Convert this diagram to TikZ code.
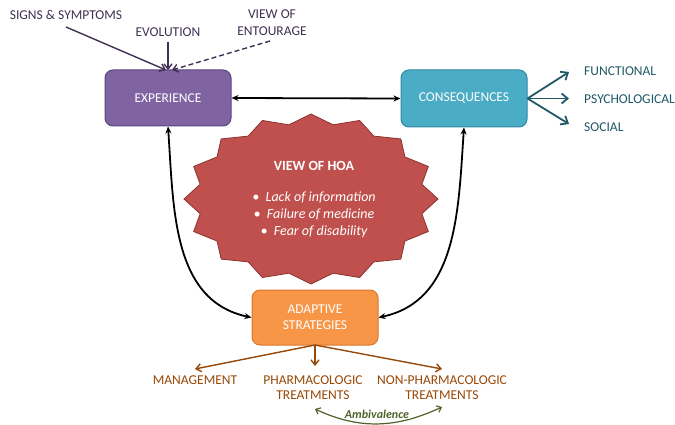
\documentclass[tikz,border=0pt]{standalone}
\usepackage{fontspec}
\setmainfont{Carlito}
\usetikzlibrary{arrows.meta}
\definecolor{expfill}{HTML}{8064A2}
\definecolor{expline}{HTML}{5C4580}
\definecolor{consfill}{HTML}{4BACC6}
\definecolor{consline}{HTML}{2E8AA3}
\definecolor{adfill}{HTML}{F79646}
\definecolor{adline}{HTML}{D9782E}
\definecolor{hoafill}{HTML}{C0504D}
\definecolor{hoaline}{HTML}{8C3330}
\definecolor{inktop}{HTML}{403152}
\definecolor{inkteal}{HTML}{215968}
\definecolor{inkbrown}{HTML}{984807}
\definecolor{inkgreen}{HTML}{4F6228}
\tikzset{
  box/.style={rounded corners=8pt, line width=1pt, minimum width=126pt,
    minimum height=56pt, align=center, text=white, font=\fontsize{13.5}{16}\selectfont},
  lbl/.style={font=\fontsize{13.5}{15}\selectfont, align=center, inner sep=1pt},
  blk/.style={line width=1.8pt, black, {Stealth[length=7pt,width=6pt]}-{Stealth[length=7pt,width=6pt]}},
  topin/.style={line width=1.4pt, inktop, -{Straight Barb[length=5pt,width=8pt]}},
  tealout/.style={line width=1.8pt, inkteal, -{Straight Barb[length=6pt,width=10pt]}},
  brownout/.style={line width=1.4pt, inkbrown, -{Straight Barb[length=5pt,width=8pt]}},
}
\begin{document}
\begin{tikzpicture}[x=1pt,y=-1pt]
\useasboundingbox[fill=white] (0,0) rectangle (675,425);

% central star
\draw[fill=hoafill, draw=hoaline, line width=0.8pt]
  plot[samples=33, domain=0:32, variable=\k]
  ({311+127*(0.945+0.055*cos(\k*180))*cos(90+\k*11.25)},
   {199-85*(0.945+0.055*cos(\k*180))*sin(90+\k*11.25)}) -- cycle;
\node[font=\fontsize{14}{16}\selectfont\bfseries, text=white] (hoa) at (314,166) {VIEW OF HOA};
\node[font=\fontsize{14}{16.8}\selectfont\itshape, text=white, align=center] (hoalist) at (314,215)
  {\textbullet\ \ Lack of information\\ \textbullet\ \ Failure of medicine\\ \textbullet\ \ Fear of disability};

% main boxes
\node[box, fill=expfill, draw=expline] (exp) at (168,98) {EXPERIENCE};
\node[box, fill=consfill, draw=consline, minimum height=57pt] (cons) at (464,98.5) {CONSEQUENCES};
\node[box, fill=adfill, draw=adline, minimum height=55pt] (adapt) at (315,317.5) {ADAPTIVE\\STRATEGIES};

% inputs to experience
\node[lbl, text=inktop] (signs) at (66,15) {SIGNS \& SYMPTOMS};
\node[lbl, text=inktop] (evol) at (168,32) {EVOLUTION};
\node[lbl, text=inktop, font=\fontsize{13.5}{17}\selectfont] (entour) at (272,23) {VIEW OF\\ENTOURAGE};
\coordinate (inA) at (166,70);
\coordinate (inB) at (168,70);
\coordinate (inC) at (172,70);
\coordinate (sigsrc) at (66,27);
\coordinate (evosrc) at (168,42);
\coordinate (entsrc) at (270,41);
\draw[topin] (sigsrc) -- (inA);
\draw[topin] (evosrc) -- (inB);
\draw[topin, dash pattern=on 5pt off 3pt] (entsrc) -- (inC);

% links between the boxes
\draw[blk] (exp.east) -- (cons.west);
\draw[blk] (exp.south) to[out=-86, in=168] (adapt.west);
\draw[blk] (cons.south) to[out=-94, in=12] (adapt.east);

% consequences
\node[lbl, text=inkteal, anchor=west] (func) at (583,71) {FUNCTIONAL};
\node[lbl, text=inkteal, anchor=west] (psych) at (583,99) {PSYCHOLOGICAL};
\node[lbl, text=inkteal, anchor=west] (soc) at (583,127) {SOCIAL};
\coordinate (tipF) at (569,72);
\coordinate (tipP) at (569,98.5);
\coordinate (tipS) at (569,124);
\draw[tealout] (cons.east) -- (tipF);
\draw[tealout] (cons.east) -- (tipP);
\draw[tealout] (cons.east) -- (tipS);

% adaptive strategies
\node[lbl, text=inkbrown] (mgmt) at (195,380) {MANAGEMENT};
\node[lbl, text=inkbrown] (pharm) at (313,388) {PHARMACOLOGIC\\TREATMENTS};
\node[lbl, text=inkbrown] (nonph) at (442,388) {NON-PHARMACOLOGIC\\TREATMENTS};
\coordinate (adsrc) at (315,345);
\coordinate (tipM) at (195,369);
\coordinate (tipPh) at (315,366);
\coordinate (tipN) at (442,369);
\draw[brownout] (adsrc) -- (tipM);
\draw[brownout] (adsrc) -- (tipPh);
\draw[brownout] (adsrc) -- (tipN);

% ambivalence between the two treatment kinds
\coordinate (ambL) at (315,409);
\coordinate (ambR) at (442,407);
\draw[line width=1.2pt, inkgreen, {Straight Barb[length=4pt,width=7pt]}-{Straight Barb[length=4pt,width=7pt]}]
  (ambL) to[out=-25, in=-155] (ambR);
\node[font=\fontsize{12}{13}\selectfont\bfseries\itshape, text=inkgreen, fill=white, inner sep=0.5pt] (amb) at (377,414) {Ambivalence};
\end{tikzpicture}
\end{document}
